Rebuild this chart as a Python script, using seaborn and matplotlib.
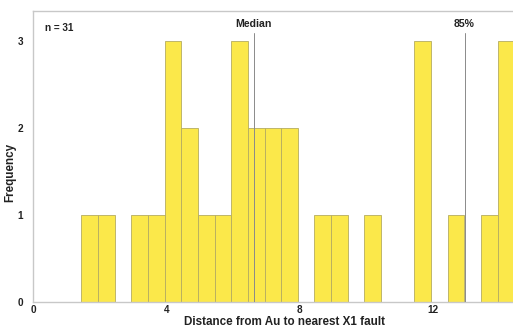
import numpy as np
import pandas as pd
import matplotlib
matplotlib.use("Agg")
import matplotlib.pyplot as plt
import seaborn as sns

# Histogram of distances (bin width 0.5), counts per bin
bin_lefts = [1.45, 1.95, 2.45, 2.95, 3.45, 3.95, 4.45, 4.95, 5.45, 5.95, 6.45,
             6.95, 7.45, 7.95, 8.45, 8.95, 9.45, 9.95, 10.45, 10.95, 11.45,
             11.95, 12.45, 12.95, 13.45, 13.95]
counts = [1, 1, 0, 1, 1, 3, 2, 1, 1, 3, 2,
          2, 2, 0, 1, 1, 0, 1, 0, 0, 3,
          0, 1, 0, 1, 3]
bin_width = 0.5
n_total = 31
median_value = 6.63
p85_value = 12.98

x_ticks = [0, 4, 8, 12]
y_ticks = [0, 1, 2, 3]

df = pd.DataFrame({"center": np.array(bin_lefts) + bin_width / 2, "count": counts})
edges = list(bin_lefts) + [bin_lefts[-1] + bin_width]

sns.set_theme(style="white")
plt.rcParams["font.family"] = ["Liberation Sans", "DejaVu Sans"]

fig = plt.figure(figsize=(5.13, 3.29), dpi=100)
ax = fig.add_axes([33 / 513, 27 / 329, 1 - 33 / 513, (302 - 11) / 329])

sns.histplot(data=df, x="center", weights="count", bins=edges, ax=ax,
             color="#FBE84A", alpha=1.0, edgecolor="#B5AC60", linewidth=0.6)

ax.set_xlim(0, 14.41)
ax.set_ylim(0, 3.345)

line_top = 3.09
for v in (median_value, p85_value):
    ax.plot([v, v], [0, line_top], color="#8a8a8a", linewidth=0.7, zorder=3)
ax.text(median_value, 3.20, "Median", ha="center", va="center",
        fontsize=7.6, fontweight="bold", color="#222222")
ax.text(p85_value - 0.05, 3.20, "85%", ha="center", va="center",
        fontsize=7.6, fontweight="bold", color="#222222")
ax.text(0.35, 3.15, f"n = {n_total}", ha="left", va="center",
        fontsize=7.2, fontweight="bold", color="#222222")

ax.set_xticks(x_ticks)
ax.set_yticks(y_ticks)
ax.set_xticklabels([str(t) for t in x_ticks], fontsize=7.2, fontweight="bold")
ax.set_yticklabels([str(t) for t in y_ticks], fontsize=7.2, fontweight="bold")
ax.tick_params(axis="x", length=0, pad=2, colors="#222222")
ax.tick_params(axis="y", length=0, pad=7, colors="#222222")

for side in ("left", "bottom", "top"):
    ax.spines[side].set_color("#c8c8c8")
    ax.spines[side].set_linewidth(1.0)
ax.spines["right"].set_visible(False)

ax.set_xlabel("")
ax.set_ylabel("")
fig.text(285 / 513, 1 - 322 / 329, "Distance from Au to nearest X1 fault",
         ha="center", va="center", fontsize=8.4, fontweight="bold", color="#222222")
fig.text(10 / 513, 1 - 172 / 329, "Frequency", rotation=90,
         ha="center", va="center", fontsize=8.4, fontweight="bold", color="#222222")

fig.savefig("out.png", dpi=100)
